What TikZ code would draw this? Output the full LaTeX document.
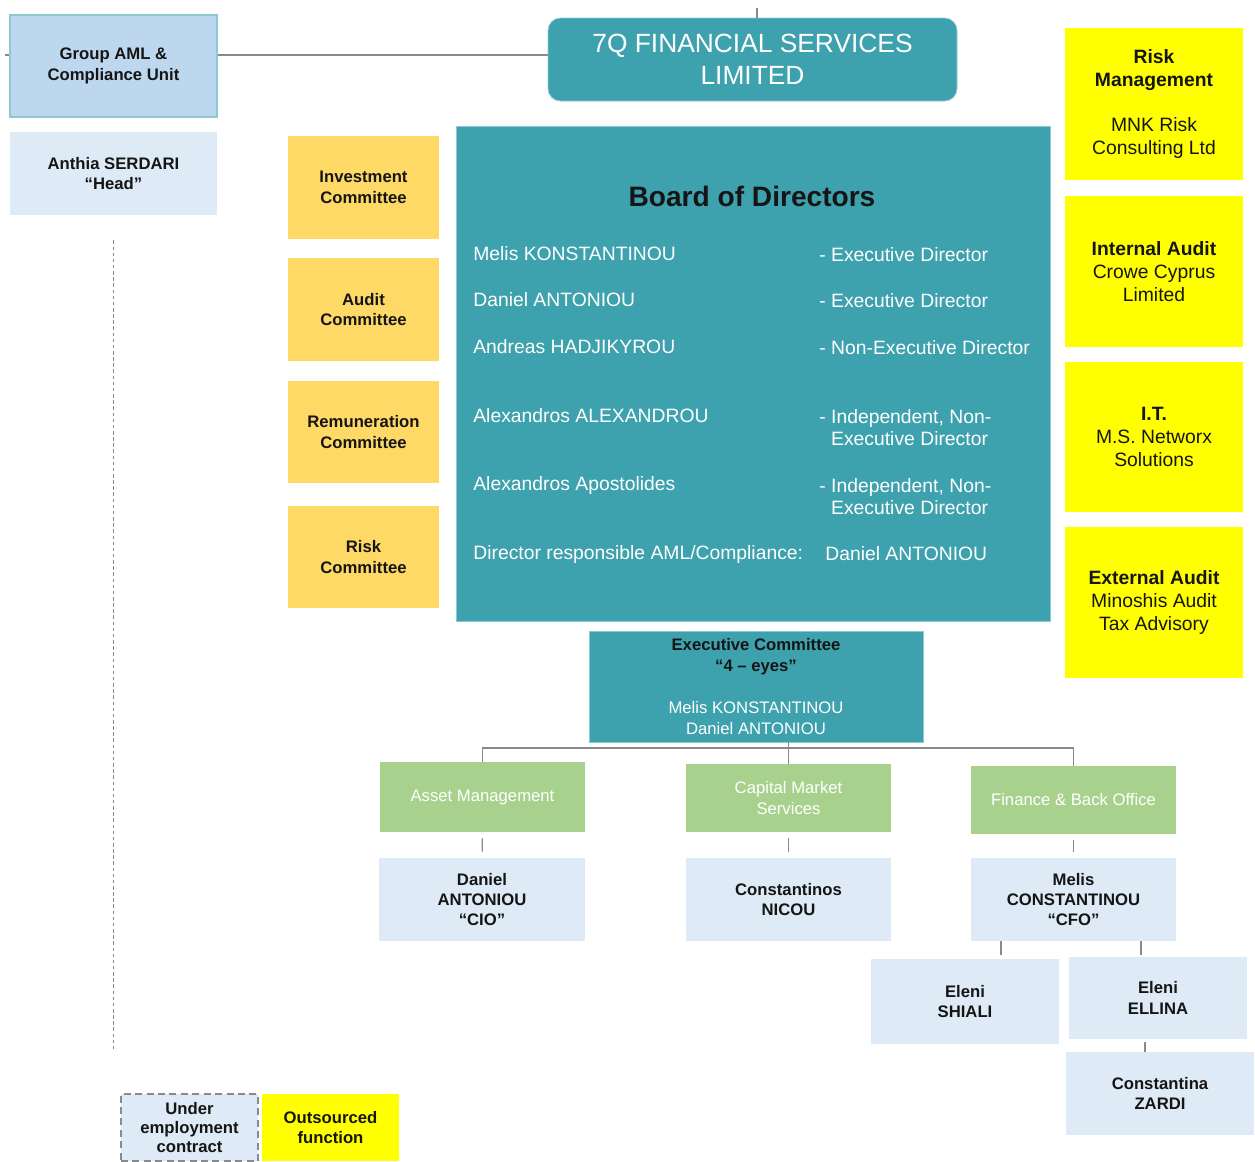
\documentclass[tikz,border=0pt]{standalone}
\usepackage{fontspec}
\setmainfont{Liberation Sans}
\usepackage{tikz}
\usetikzlibrary{positioning}
\definecolor{ink}{HTML}{151515}
\definecolor{teal}{HTML}{3DA2AE}
\definecolor{tealedge}{HTML}{8CCAD3}
\definecolor{amlblue}{HTML}{BDD7EE}
\definecolor{pale}{HTML}{DEEAF6}
\definecolor{gold}{HTML}{FFD966}
\definecolor{leaf}{HTML}{A9D18E}
\definecolor{sun}{HTML}{FFFF00}
\definecolor{wire}{HTML}{8A8A8A}

\begin{document}
\begin{tikzpicture}[x=0.02cm,y=-0.02cm,
  sz/.style 2 args={minimum width=#1*0.02cm,minimum height=#2*0.02cm},
  box/.style={inner sep=2pt,align=center,text=ink,font=\bfseries\fontsize{9.5}{11.6}\selectfont},
  person/.style={box,fill=pale},
  comm/.style={box,fill=gold},
  outsrc/.style={inner sep=2pt,align=center,text=ink,fill=sun,font=\fontsize{11}{13}\selectfont},
  unit/.style={inner sep=2pt,align=center,text=white,fill=leaf,font=\fontsize{9.5}{11.6}\selectfont},
  row/.style={inner sep=0pt,text=white,font=\fontsize{11}{12.5}\selectfont},
  conn/.style={wire,line width=0.7pt}]
  \useasboundingbox (0,0) rectangle (1255,1161);

  % top of the chart
  \node[box,sz={207}{102},fill=amlblue,draw=tealedge,line width=1.2pt] (aml) at (113.5,66) {Group AML \&\\Compliance Unit};
  \node[person,sz={207}{83}] (anthia) at (113.5,173.5) {Anthia SERDARI\\“Head”};
  \node[sz={409}{83},fill=teal,draw=tealedge,rounded corners=0.25cm,text=white,align=center,
        font=\fontsize{15}{18}\selectfont] (top) at (752.5,59.5) {7Q FINANCIAL SERVICES\\LIMITED};

  % committees
  \node[comm,sz={151}{103}] (inv) at (363.5,187.5) {Investment\\Committee};
  \node[comm,sz={151}{103}] (aud) at (363.5,309.5) {Audit\\Committee};
  \node[comm,sz={151}{102}] (rem) at (363.5,432) {Remuneration\\Committee};
  \node[comm,sz={151}{102}] (rsk) at (363.5,557) {Risk\\Committee};

  % board
  \node[sz={594}{495},fill=teal,draw=tealedge,line width=0.5pt] (board) at (753,373.5) {};
  \node[inner sep=0pt,text=ink,font=\bfseries\fontsize{16}{18}\selectfont] (bdtitle) at (752,196) {Board of Directors};
  \foreach \i/\y/\nm/\role in {1/254/Melis KONSTANTINOU/- Executive Director,
      2/300/Daniel ANTONIOU/- Executive Director,
      3/347/Andreas HADJIKYROU/- Non-Executive Director,
      4/416/Alexandros ALEXANDROU/{- Independent, Non-\\\phantom{- }Executive Director},
      5/485/Alexandros Apostolides/{- Independent, Non-\\\phantom{- }Executive Director}} {
    \node[row,anchor=west] (nm\i) at (473,\y) {\nm};
    \node[row,anchor=north west,align=left] (ro\i) at (819,\y-7) {\role};
  }
  \node[row,anchor=west] (nm6) at (473,554) {Director responsible AML/Compliance:};
  \node[row,anchor=west] (ro6) at (825,554) {Daniel ANTONIOU};

  % outsourced functions
  \node[outsrc,sz={178}{152}] (rm) at (1154,104) {\textbf{Risk}\\\textbf{Management}\\[13pt]MNK Risk\\Consulting Ltd};
  \node[outsrc,sz={178}{151}] (ia) at (1154,271.5) {\textbf{Internal Audit}\\Crowe Cyprus\\Limited};
  \node[outsrc,sz={178}{150}] (it) at (1154,437) {\textbf{I.T.}\\M.S. Networx\\Solutions};
  \node[outsrc,sz={178}{151}] (ea) at (1154,602.5) {\textbf{External Audit}\\Minoshis Audit\\Tax Advisory};

  % executive committee and departments
  \node[sz={334}{111},fill=teal,draw=tealedge,line width=0.5pt,align=center,inner sep=2pt,
        font=\fontsize{9.5}{11.9}\selectfont] (exec) at (756,686.5)
        {\textcolor{ink}{\textbf{Executive Committee}}\\\textcolor{ink}{\textbf{“4 – eyes”}}\\[11.9pt]
         \textcolor{white}{Melis KONSTANTINOU}\\\textcolor{white}{Daniel ANTONIOU}};
  \node[unit,sz={205}{70}] (am) at (482.5,797) {Asset Management};
  \node[unit,sz={205}{68}] (cm) at (788.5,798) {Capital Market\\Services};
  \node[unit,sz={205}{68}] (fb) at (1073.5,800) {Finance \& Back Office};

  \node[person,sz={206}{83}] (dan) at (482,899.5) {Daniel\\ANTONIOU\\“CIO”};
  \node[person,sz={205}{83}] (con) at (788.5,899.5) {Constantinos\\NICOU};
  \node[person,sz={205}{83}] (mel) at (1073.5,899.5) {Melis\\CONSTANTINOU\\“CFO”};
  \node[person,sz={188}{85}] (shi) at (965,1001.5) {Eleni\\SHIALI};
  \node[person,sz={178}{82}] (ell) at (1158,998) {Eleni\\ELLINA};
  \node[person,sz={188}{83}] (zar) at (1160,1093.5) {Constantina\\ZARDI};

  % legend
  \node[person,sz={137}{67},draw=wire,dashed,line width=1.1pt,dash pattern=on 4pt off 2.5pt,
        font=\bfseries\fontsize{9.5}{11}\selectfont] (emp) at (189.5,1127.5) {Under\\employment\\contract};
  \node[comm,sz={137}{67},fill=sun] (out) at (330.5,1127.5) {Outsourced\\function};

  % connectors
  \coordinate (lft) at (5,55);
  \coordinate (up) at (757,8);
  \coordinate (bus) at (790,748);
  \coordinate (dend) at (116,1050);
  \draw[conn] (lft) -- (lft -| aml.west);
  \draw[conn] (aml.east |- lft) -- (top.west |- lft);
  \draw[conn] (up) -- (up |- top.north);
  \draw[wire,dashed,line width=0.6pt,dash pattern=on 2pt off 1.5pt,shorten <=0.5cm] (anthia.south) -- (anthia.south |- dend);
  \draw[conn] (cm.north) -- (cm.north |- exec.south);
  \draw[conn] (am.north) |- (bus) -| (fb.north);
  \foreach \a/\b in {am/dan,cm/con,fb/mel}
    \draw[conn,shorten <=0.12cm,shorten >=0.12cm] (\a) -- (\b);
  \path ([xshift=-1.45cm]mel.south) coordinate (m1) ([xshift=1.35cm]mel.south) coordinate (m2)
        ([xshift=-0.26cm]ell.south) coordinate (e1);
  \draw[conn,shorten >=0.08cm] (m1) -- (m1 |- shi.north);
  \draw[conn,shorten >=0.04cm] (m2) -- (m2 |- ell.north);
  \draw[conn,shorten <=0.06cm] (e1) -- (e1 |- zar.north);
\end{tikzpicture}
\end{document}
